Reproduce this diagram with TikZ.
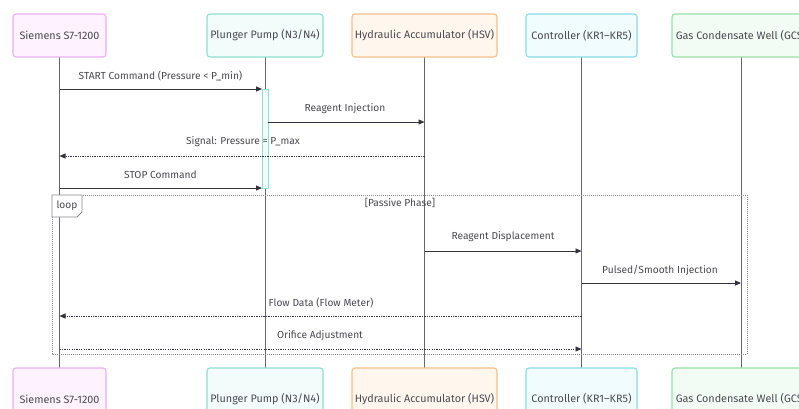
\documentclass[tikz,border=0pt]{standalone}
\usepackage{fontspec}
\setmainfont{Fira Sans}
\usetikzlibrary{arrows.meta}
\definecolor{txt}{HTML}{4A4A50}
\definecolor{lifec}{HTML}{666670}
\definecolor{arr}{HTML}{333340}
\definecolor{frame}{HTML}{888890}
\definecolor{pkB}{HTML}{E8B0F0}\definecolor{pkF}{HTML}{FDF2FE}
\definecolor{tlB}{HTML}{8EE0D0}\definecolor{tlF}{HTML}{F2FCFA}
\definecolor{orB}{HTML}{F5C08A}\definecolor{orF}{HTML}{FFF6EE}
\definecolor{cyB}{HTML}{88DCEA}\definecolor{cyF}{HTML}{F0FCFE}
\definecolor{grB}{HTML}{98E0AA}\definecolor{grF}{HTML}{F2FCF4}
\tikzset{
  actor/.style={rounded corners=3pt, line width=1.1pt},
  alabel/.style={text=txt, font=\fontsize{10.8}{12}\selectfont, inner sep=0pt},
  lifeline/.style={draw=lifec, line width=1pt},
  msg/.style={draw=arr, line width=0.9pt, -{Triangle[length=6pt,width=5pt]}},
  reply/.style={msg, dash pattern=on 1.3pt off 1.1pt},
  lbl/.style={text=txt, font=\fontsize{10.2}{12}\selectfont, inner sep=0pt},
}
\begin{document}
\begin{tikzpicture}[x=1pt,y=-1pt]
\useasboundingbox (0,0) rectangle (799,408);
\fill[white] (0,0) rectangle (799,408);
% lifelines
\foreach \x/\n in {59.5/a,265/b,424.5/c,581.5/d,741/e}{
  \coordinate (\n t) at (\x,57);
  \coordinate (\n b) at (\x,368);
  \draw[lifeline] (\n t) -- (\n b);
}
% top actors
\draw[actor, draw=pkB, fill=pkF] (13,14) rectangle (106,57);
\node[alabel] (sA) at (59.5,35.5) {Siemens S7-1200};
\draw[actor, draw=tlB, fill=tlF] (207,14) rectangle (323,57);
\node[alabel] (sB) at (265,35.5) {Plunger Pump (N3/N4)};
\draw[actor, draw=orB, fill=orF] (352,14) rectangle (497,57);
\node[alabel] (sC) at (424.5,35.5) {Hydraulic Accumulator (HSV)};
\draw[actor, draw=cyB, fill=cyF] (526,14) rectangle (637,57);
\node[alabel] (sD) at (581.5,35.5) {Controller (KR1{\textendash}KR5)};
\draw[actor, draw=grB, fill=grF] (672,14) rectangle (810,57);
\node[alabel] (sE) at (741,35.5) {Gas Condensate Well (GCS)};
% bottom actors
\draw[actor, draw=pkB, fill=pkF] (13,368) rectangle (106,430);
\node[alabel] (eA) at (59.5,399) {Siemens S7-1200};
\draw[actor, draw=tlB, fill=tlF] (207,368) rectangle (323,430);
\node[alabel] (eB) at (265,399) {Plunger Pump (N3/N4)};
\draw[actor, draw=orB, fill=orF] (352,368) rectangle (497,430);
\node[alabel] (eC) at (424.5,399) {Hydraulic Accumulator (HSV)};
\draw[actor, draw=cyB, fill=cyF] (526,368) rectangle (637,430);
\node[alabel] (eD) at (581.5,399) {Controller (KR1{\textendash}KR5)};
\draw[actor, draw=grB, fill=grF] (672,368) rectangle (810,430);
\node[alabel] (eE) at (741,399) {Gas Condensate Well (GCS)};
% activation bar
\draw[draw=tlB, fill=tlF, line width=0.9pt] (262,89) rectangle (268,188);
% messages
\coordinate (m1s) at (59.5,89);  \coordinate (m1e) at (262,89);
\draw[msg] (m1s) -- (m1e);
\node[lbl] (l1) at (160.5,76) {START Command (Pressure < P\_min)};
\coordinate (m2s) at (268,122); \coordinate (m2e) at (424.5,122);
\draw[msg] (m2s) -- (m2e);
\node[lbl] (l2) at (345,109) {Reagent Injection};
\coordinate (m3s) at (424.5,156); \coordinate (m3e) at (59.5,156);
\draw[reply] (m3s) -- (m3e);
\node[lbl] (l3) at (243,142) {Signal: Pressure = P\_max};
\coordinate (m4s) at (59.5,188); \coordinate (m4e) at (262,188);
\draw[msg] (m4s) -- (m4e);
\node[lbl] (l4) at (160.5,175) {STOP Command};
% loop frame
\draw[frame, line width=0.9pt, dash pattern=on 1pt off 1pt] (52,195) rectangle (747,354);
\draw[frame, fill=white, line width=0.8pt] (52,195) -- (82,195) -- (82,212) -- (77,217) -- (52,217) -- cycle;
\node[lbl] (lp) at (67,206) {loop};
\node[lbl] (pp) at (400,203) {[Passive Phase]};
\coordinate (m5s) at (424.5,251); \coordinate (m5e) at (581.5,251);
\draw[msg] (m5s) -- (m5e);
\node[lbl] (l5) at (503,237) {Reagent Displacement};
\coordinate (m6s) at (581.5,283); \coordinate (m6e) at (741,283);
\draw[msg] (m6s) -- (m6e);
\node[lbl] (l6) at (660,270) {Pulsed/Smooth Injection};
\coordinate (m7s) at (581.5,316); \coordinate (m7e) at (59.5,316);
\draw[reply] (m7s) -- (m7e);
\node[lbl] (l7) at (321,303) {Flow Data (Flow Meter)};
\coordinate (m8s) at (59.5,349); \coordinate (m8e) at (581.5,349);
\draw[reply] (m8s) -- (m8e);
\node[lbl] (l8) at (320,336) {Orifice Adjustment};
\end{tikzpicture}
\end{document}
